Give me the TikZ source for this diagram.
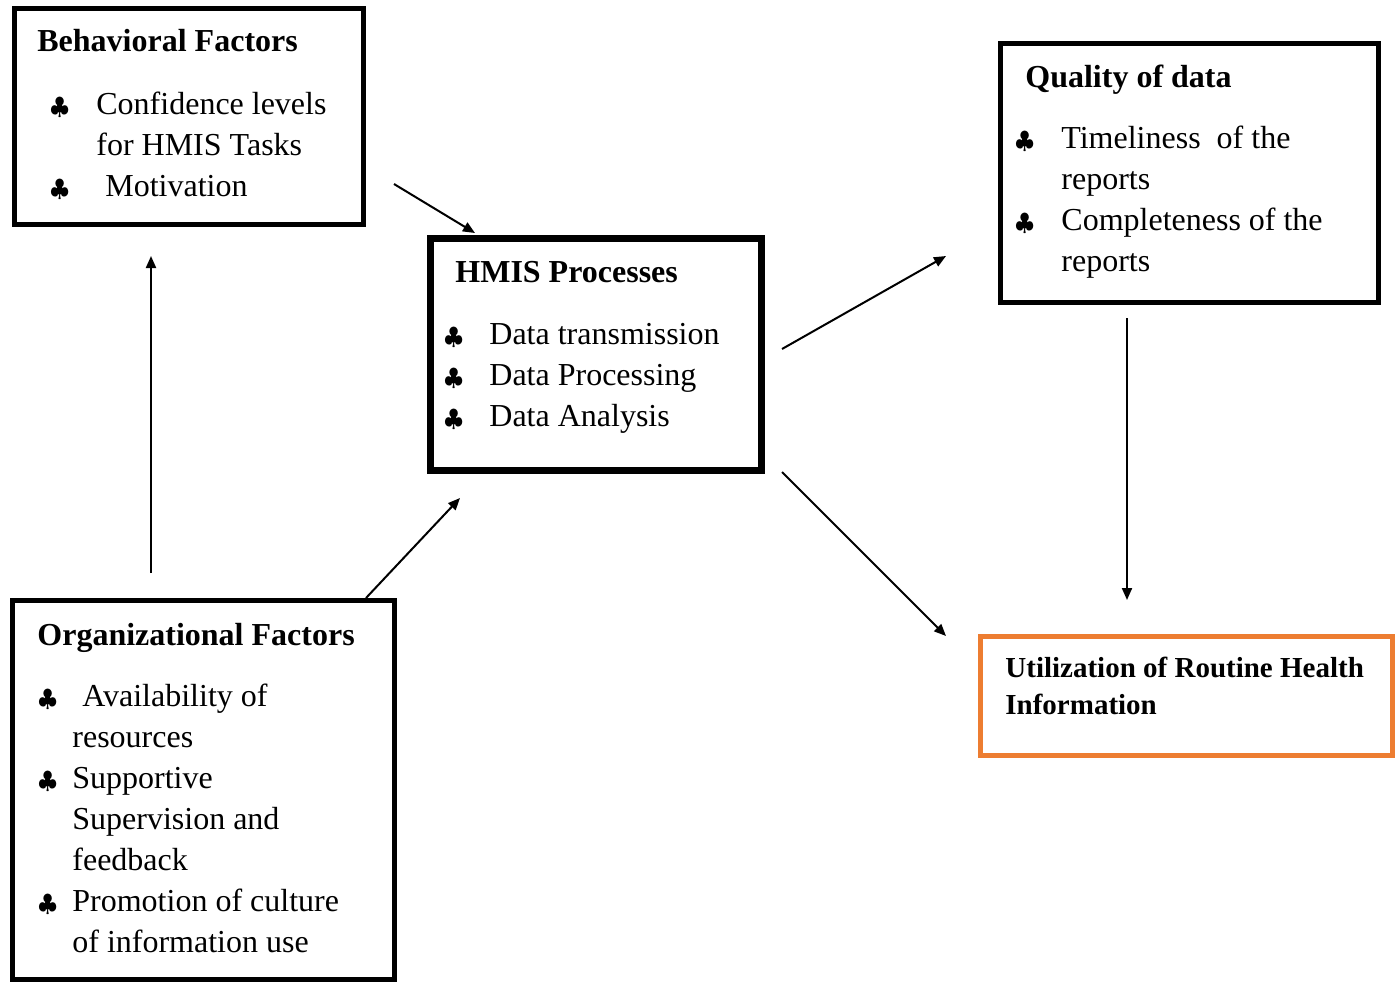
\documentclass[tikz,border=0pt]{standalone}
\usepackage{fontspec}
\setmainfont{Liberation Serif}
\usetikzlibrary{arrows.meta, positioning}
\definecolor{utilorange}{RGB}{237,125,49}
\newcommand{\clubmark}[2]{\hspace*{#1}\makebox[#2][l]{{\fontsize{12}{12}\selectfont$\clubsuit$}}}

\begin{document}
\begin{tikzpicture}[x=0.5pt, y=-0.5pt,
    box/.style={draw, line width=2.5pt, inner sep=0pt, outer sep=0pt, anchor=north west},
    boxtext/.style={anchor=base west, inner sep=0pt, font=\fontsize{16}{20.5}\selectfont},
    link/.style={-{Triangle[length=6pt,width=5pt]}, line width=1pt}]
    \useasboundingbox (0,0) rectangle (1399,982);

    \node[box, minimum width=174.5pt, minimum height=108pt] (beh) at (14.5,8.5) {};
    \node[box, line width=3.5pt, minimum width=165.5pt, minimum height=116pt] (hmis) at (430.5,238.5) {};
    \node[box, minimum width=189pt, minimum height=129.5pt] (qual) at (1000.5,43.5) {};
    \node[box, draw=utilorange, minimum width=206pt, minimum height=59.5pt] (util) at (980.5,636.5) {};
    \node[box, minimum width=191pt, minimum height=189.5pt] (org) at (12.5,600.5) {};

    \node[boxtext] (behtext) at (37,51) {\begin{tabular}[t]{@{}l@{}}
        \textbf{Behavioral Factors}\\[11pt]
        \clubmark{6.5pt}{23pt}Confidence levels\\
        \hspace*{29.5pt}for HMIS Tasks\\
        \clubmark{6.5pt}{27.5pt}Motivation
    \end{tabular}};
    \node[boxtext] (hmistext) at (455,282) {\begin{tabular}[t]{@{}l@{}}
        \textbf{HMIS Processes}\\[10.5pt]
        \clubmark{-5.5pt}{22.5pt}Data transmission\\
        \clubmark{-5.5pt}{22.5pt}Data Processing\\
        \clubmark{-5.5pt}{22.5pt}Data Analysis
    \end{tabular}};
    \node[boxtext] (qualtext) at (1025,87) {\begin{tabular}[t]{@{}l@{}}
        \textbf{Quality of data}\\[10pt]
        \clubmark{-5pt}{23pt}Timeliness\ \ of the\\
        \hspace*{18pt}reports\\
        \clubmark{-5pt}{23pt}Completeness of the\\
        \hspace*{18pt}reports
    \end{tabular}};
    \node[boxtext, font=\fontsize{14.5}{18.5}\selectfont\bfseries] (utiltext) at (1005,677) {\begin{tabular}[t]{@{}l@{}}
        Utilization of Routine Health\\
        Information
    \end{tabular}};
    \node[boxtext] (orgtext) at (37,645) {\begin{tabular}[t]{@{}l@{}}
        \textbf{Organizational Factors}\\[10pt]
        \clubmark{0.5pt}{22pt}Availability of\\
        \hspace*{17.5pt}resources\\
        \clubmark{0.5pt}{17pt}Supportive\\
        \hspace*{17.5pt}Supervision and\\
        \hspace*{17.5pt}feedback\\
        \clubmark{0.5pt}{17pt}Promotion of culture\\
        \hspace*{17.5pt}of information use
    \end{tabular}};

    \coordinate (behout) at (394,184);
    \coordinate (hmisintop) at (475,233);
    \coordinate (orgup) at (151,573);
    \coordinate (behin) at (151,256);
    \coordinate (orgout) at (366,598);
    \coordinate (hmisinbot) at (460,498);
    \coordinate (hmisoutup) at (782,349);
    \coordinate (qualin) at (946,256);
    \coordinate (hmisoutdown) at (782,472);
    \coordinate (utilinleft) at (946,636);
    \coordinate (qualout) at (1127,318);
    \coordinate (utilintop) at (1127,600);

    \draw[link] (behout) -- (hmisintop);
    \draw[link] (orgup) -- (behin);
    \draw[link] (orgout) -- (hmisinbot);
    \draw[link] (hmisoutup) -- (qualin);
    \draw[link] (hmisoutdown) -- (utilinleft);
    \draw[link] (qualout) -- (utilintop);
\end{tikzpicture}
\end{document}
